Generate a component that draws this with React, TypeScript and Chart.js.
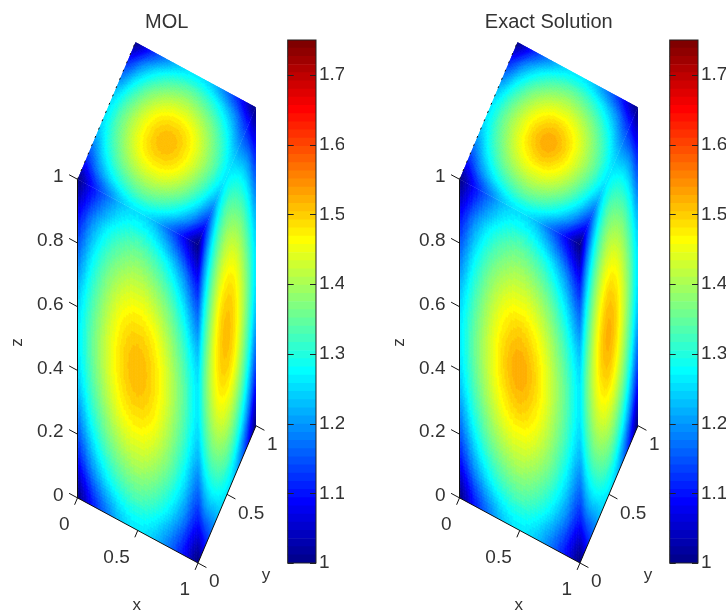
import React, { useEffect, useRef } from "react";
import { Chart, registerables } from "chart.js";

Chart.register(...registerables);

const zTicks = [0, 0.2, 0.4, 0.6, 0.8, 1];
const xTicks = [0, 0.5, 1];
const yTicks = [0, 0.5, 1];
const barTicks = [1, 1.1, 1.2, 1.3, 1.4, 1.5, 1.6, 1.7];
const barMin = 1;
const barMax = 1.75;
const axisCoords = [0, 0.125, 0.25, 0.375, 0.5, 0.625, 0.75, 0.875, 1];

// rows: z = 1 down to 0, columns: x = 0..1
const molFront = [
  [1.00, 1.09, 1.17, 1.23, 1.25, 1.23, 1.17, 1.09, 1.00],
  [1.10, 1.20, 1.28, 1.33, 1.35, 1.33, 1.28, 1.20, 1.10],
  [1.18, 1.28, 1.36, 1.41, 1.43, 1.41, 1.36, 1.28, 1.18],
  [1.24, 1.33, 1.41, 1.47, 1.49, 1.47, 1.41, 1.33, 1.24],
  [1.26, 1.35, 1.43, 1.49, 1.515, 1.49, 1.43, 1.35, 1.26],
  [1.24, 1.33, 1.41, 1.47, 1.49, 1.47, 1.41, 1.33, 1.24],
  [1.18, 1.28, 1.36, 1.41, 1.43, 1.41, 1.36, 1.28, 1.18],
  [1.10, 1.20, 1.28, 1.33, 1.35, 1.33, 1.28, 1.20, 1.10],
  [1.00, 1.10, 1.18, 1.24, 1.26, 1.24, 1.18, 1.10, 1.00],
];
// rows: z = 1 down to 0, columns: y = 0..1
const molRight = [
  [1.00, 1.10, 1.18, 1.24, 1.26, 1.24, 1.18, 1.10, 1.00],
  [1.10, 1.20, 1.28, 1.33, 1.35, 1.33, 1.28, 1.20, 1.10],
  [1.18, 1.28, 1.36, 1.41, 1.43, 1.41, 1.36, 1.28, 1.18],
  [1.24, 1.33, 1.41, 1.47, 1.49, 1.47, 1.41, 1.33, 1.24],
  [1.26, 1.35, 1.43, 1.49, 1.51, 1.49, 1.43, 1.35, 1.26],
  [1.24, 1.33, 1.41, 1.47, 1.49, 1.47, 1.41, 1.33, 1.24],
  [1.18, 1.28, 1.36, 1.41, 1.43, 1.41, 1.36, 1.28, 1.18],
  [1.10, 1.20, 1.28, 1.33, 1.35, 1.33, 1.28, 1.20, 1.10],
  [1.00, 1.10, 1.18, 1.24, 1.26, 1.24, 1.18, 1.10, 1.00],
];
// rows: y = 1 down to 0, columns: x = 0..1
const molTop = [
  [1.00, 1.10, 1.18, 1.24, 1.26, 1.24, 1.18, 1.10, 1.00],
  [1.10, 1.20, 1.28, 1.33, 1.35, 1.33, 1.28, 1.20, 1.10],
  [1.18, 1.28, 1.36, 1.41, 1.43, 1.41, 1.36, 1.28, 1.18],
  [1.24, 1.33, 1.41, 1.47, 1.49, 1.47, 1.41, 1.33, 1.24],
  [1.26, 1.35, 1.43, 1.49, 1.515, 1.49, 1.43, 1.35, 1.26],
  [1.24, 1.33, 1.41, 1.47, 1.49, 1.47, 1.41, 1.33, 1.24],
  [1.18, 1.28, 1.36, 1.41, 1.43, 1.41, 1.36, 1.28, 1.18],
  [1.10, 1.20, 1.28, 1.33, 1.35, 1.33, 1.28, 1.20, 1.10],
  [1.00, 1.10, 1.18, 1.24, 1.26, 1.24, 1.18, 1.10, 1.00],
];
const exactFront = [
  [1.00, 1.09, 1.17, 1.23, 1.25, 1.23, 1.17, 1.09, 1.00],
  [1.10, 1.20, 1.28, 1.33, 1.35, 1.33, 1.28, 1.20, 1.10],
  [1.18, 1.28, 1.36, 1.41, 1.43, 1.41, 1.36, 1.28, 1.18],
  [1.24, 1.33, 1.41, 1.47, 1.495, 1.47, 1.41, 1.33, 1.24],
  [1.26, 1.35, 1.43, 1.495, 1.525, 1.495, 1.43, 1.35, 1.26],
  [1.24, 1.33, 1.41, 1.47, 1.495, 1.47, 1.41, 1.33, 1.24],
  [1.18, 1.28, 1.36, 1.41, 1.43, 1.41, 1.36, 1.28, 1.18],
  [1.10, 1.20, 1.28, 1.33, 1.35, 1.33, 1.28, 1.20, 1.10],
  [1.00, 1.10, 1.18, 1.24, 1.26, 1.24, 1.18, 1.10, 1.00],
];
const exactRight = [
  [1.00, 1.10, 1.18, 1.24, 1.26, 1.24, 1.18, 1.10, 1.00],
  [1.10, 1.20, 1.28, 1.33, 1.35, 1.33, 1.28, 1.20, 1.10],
  [1.18, 1.28, 1.36, 1.41, 1.43, 1.41, 1.36, 1.28, 1.18],
  [1.24, 1.33, 1.41, 1.47, 1.495, 1.47, 1.41, 1.33, 1.24],
  [1.26, 1.35, 1.43, 1.495, 1.52, 1.495, 1.43, 1.35, 1.26],
  [1.24, 1.33, 1.41, 1.47, 1.495, 1.47, 1.41, 1.33, 1.24],
  [1.18, 1.28, 1.36, 1.41, 1.43, 1.41, 1.36, 1.28, 1.18],
  [1.10, 1.20, 1.28, 1.33, 1.35, 1.33, 1.28, 1.20, 1.10],
  [1.00, 1.10, 1.18, 1.24, 1.26, 1.24, 1.18, 1.10, 1.00],
];
const exactTop = [
  [1.00, 1.10, 1.18, 1.24, 1.26, 1.24, 1.18, 1.10, 1.00],
  [1.10, 1.20, 1.28, 1.33, 1.35, 1.33, 1.28, 1.20, 1.10],
  [1.18, 1.28, 1.36, 1.41, 1.43, 1.41, 1.36, 1.28, 1.18],
  [1.24, 1.33, 1.41, 1.47, 1.495, 1.47, 1.41, 1.33, 1.24],
  [1.26, 1.35, 1.43, 1.495, 1.525, 1.495, 1.43, 1.35, 1.26],
  [1.24, 1.33, 1.41, 1.47, 1.495, 1.47, 1.41, 1.33, 1.24],
  [1.18, 1.28, 1.36, 1.41, 1.43, 1.41, 1.36, 1.28, 1.18],
  [1.10, 1.20, 1.28, 1.33, 1.35, 1.33, 1.28, 1.20, 1.10],
  [1.00, 1.10, 1.18, 1.24, 1.26, 1.24, 1.18, 1.10, 1.00],
];

const TEXT = "#333333";
const FONT = "Liberation Sans";
const TICK_SIZE = 19;

// oblique MATLAB-like view: normalised horizontal and vertical screen coordinates
const project = (x: number, y: number, z: number) => ({
  x: (120.5 * x + 58 * y) / 178.5,
  y: (65 - 65 * x + 137 * y + 318 * z) / 520,
});

const JET_LEVELS = 64;
const clamp01 = (a: number) => Math.max(0, Math.min(1, a));
const jetLevel = (i: number) => {
  const t = (i + 1) / JET_LEVELS;
  const c = (o: number) => Math.round(255 * clamp01(1.5 - Math.abs(4 * t - o)));
  return `rgb(${c(3)},${c(2)},${c(1)})`;
};
const jetValue = (v: number) => {
  const i = Math.floor(((v - barMin) / (barMax - barMin)) * JET_LEVELS);
  return jetLevel(Math.max(0, Math.min(JET_LEVELS - 1, i)));
};

const catmull = (a: number, b: number, c: number, d: number, t: number) =>
  0.5 * (2 * b + (c - a) * t + (2 * a - 5 * b + 4 * c - d) * t * t + (3 * b - a - 3 * c + d) * t * t * t);

const sampleGrid = (g: number[][], r: number, c: number) => {
  const n = g.length, m = g[0].length;
  const r0 = Math.min(n - 2, Math.floor(r)), c0 = Math.min(m - 2, Math.floor(c));
  const tr = r - r0, tc = c - c0;
  const rowVal = (ri: number) => {
    const row = g[Math.max(0, Math.min(n - 1, ri))];
    const at = (k: number) => row[Math.max(0, Math.min(m - 1, k))];
    return catmull(at(c0 - 1), at(c0), at(c0 + 1), at(c0 + 2), tc);
  };
  return catmull(rowVal(r0 - 1), rowVal(r0), rowVal(r0 + 1), rowVal(r0 + 2), tr);
};

const facePoints = (g: number[][], pos: (col: number, row: number) => number[]) =>
  g.flatMap((row, ri) =>
    row.map((value, ci) => {
      const [x, y, z] = pos(axisCoords[ci], 1 - axisCoords[ri]);
      return { ...project(x, y, z), value };
    })
  );

const facePlugin = {
  id: "faces",
  beforeDatasetsDraw(chart: any) {
    const { ctx, scales } = chart;
    for (const ds of chart.data.datasets) {
      if (!ds.grid) continue;
      const g: number[][] = ds.grid;
      const n = g.length, m = g[0].length;
      const px = (r: number, c: number) => {
        const r0 = Math.min(n - 2, Math.floor(r)), c0 = Math.min(m - 2, Math.floor(c));
        const tr = r - r0, tc = c - c0;
        const pt = (a: number, b: number) => ds.data[a * m + b];
        const p = [pt(r0, c0), pt(r0, c0 + 1), pt(r0 + 1, c0), pt(r0 + 1, c0 + 1)].map((q: any) => [
          scales.x.getPixelForValue(q.x),
          scales.y.getPixelForValue(q.y),
        ]);
        const mix = (i: number) =>
          (1 - tr) * ((1 - tc) * p[0][i] + tc * p[1][i]) + tr * ((1 - tc) * p[2][i] + tc * p[3][i]);
        return [mix(0), mix(1)];
      };
      ctx.save();
      const corners = [px(0, 0), px(0, m - 1), px(n - 1, m - 1), px(n - 1, 0)];
      ctx.beginPath();
      corners.forEach((q, i) => (i ? ctx.lineTo(q[0], q[1]) : ctx.moveTo(q[0], q[1])));
      ctx.closePath();
      ctx.clip();
      const sub = 12;
      ctx.lineWidth = 0.8;
      for (let a = 0; a < (n - 1) * sub; a++) {
        for (let b = 0; b < (m - 1) * sub; b++) {
          const r = a / sub, c = b / sub, d = 1 / sub;
          const col = jetValue(sampleGrid(g, r + d / 2, c + d / 2));
          const q = [px(r, c), px(r, c + d), px(r + d, c + d), px(r + d, c)];
          ctx.fillStyle = col;
          ctx.strokeStyle = col;
          ctx.beginPath();
          q.forEach((w, i) => (i ? ctx.lineTo(w[0], w[1]) : ctx.moveTo(w[0], w[1])));
          ctx.closePath();
          ctx.fill();
          ctx.stroke();
        }
      }
      ctx.restore();
    }
  },
  afterDatasetsDraw(chart: any) {
    const { ctx, scales } = chart;
    const at = (x: number, y: number, z: number) => {
      const p = project(x, y, z);
      return [scales.x.getPixelForValue(p.x), scales.y.getPixelForValue(p.y)];
    };
    const put = (s: string, x: number, y: number, align: CanvasTextAlign) => {
      ctx.textAlign = align;
      ctx.fillText(s, x, y);
    };
    ctx.save();
    ctx.fillStyle = TEXT;
    ctx.textBaseline = "middle";
    ctx.font = `${TICK_SIZE}px "${FONT}"`;
    zTicks.forEach((t) => {
      const [a, b] = at(0, 0, t);
      put(String(t), a - 14, b - 2, "right");
    });
    xTicks.forEach((t) => {
      const [a, b] = at(t, 0, 0);
      put(String(t), a - 8, b + 27, "right");
    });
    yTicks.forEach((t) => {
      const [a, b] = at(1, t, 0);
      put(String(t), a + 11, b + 19, "left");
    });
    ctx.font = `17px "${FONT}"`;
    const xp = at(0.5, 0, 0);
    put("x", xp[0] - 1, xp[1] + 75, "center");
    const yp = at(1, 0.5, 0);
    put("y", yp[0] + 39, yp[1] + 81, "center");
    const zp = at(0, 0, 0.5);
    ctx.translate(zp[0] - 60, zp[1] + 4);
    ctx.rotate(-Math.PI / 2);
    put("z", 0, 0, "center");
    ctx.restore();
  },
};

const segment = (a: number[], b: number[]) => [project(a[0], a[1], a[2]), project(b[0], b[1], b[2])];
const lineSet = (data: any[], extra: any = {}) => ({
  data,
  showLine: true,
  pointRadius: 0,
  borderColor: "#111111",
  borderWidth: 1,
  clip: false,
  ...extra,
});

const panelDatasets = (front: number[][], right: number[][], top: number[][]) => [
  { label: "y=0", grid: front, data: facePoints(front, (a, b) => [a, 0, b]), pointRadius: 0, showLine: false },
  { label: "x=1", grid: right, data: facePoints(right, (a, b) => [1, a, b]), pointRadius: 0, showLine: false },
  { label: "z=1", grid: top, data: facePoints(top, (a, b) => [a, b, 1]), pointRadius: 0, showLine: false },
  lineSet(segment([0, 0, 0], [0, 0, 1])),
  lineSet(segment([0, 0, 0], [1, 0, 0])),
  lineSet(segment([1, 0, 0], [1, 1, 0])),
  lineSet(segment([0, 0, 1], [0, 1, 1]), { borderDash: [2, 7] }),
  ...zTicks.map((t) => lineSet(segment([0, 0, t], [-0.07, 0, t]))),
  ...xTicks.map((t) => lineSet(segment([t, 0, 0], [t, -0.05, 0]))),
  ...yTicks.map((t) => lineSet(segment([1, t, 0], [1.07, t, 0]))),
];

const barPlugin = {
  id: "barFrame",
  afterDatasetsDraw(chart: any) {
    const { ctx, chartArea: c, scales } = chart;
    ctx.save();
    ctx.strokeStyle = "#222222";
    ctx.lineWidth = 1;
    ctx.strokeRect(c.left, c.top, c.right - c.left, c.bottom - c.top);
    barTicks.forEach((t) => {
      const y = Math.round(scales.y.getPixelForValue(t)) + 0.5;
      ctx.beginPath();
      ctx.moveTo(c.left, y);
      ctx.lineTo(c.left + 6, y);
      ctx.moveTo(c.right, y);
      ctx.lineTo(c.right - 6, y);
      ctx.stroke();
    });
    ctx.restore();
  },
};

const soften = "blur(0.5px)";

function Panel({ title, left, front, right, top }: any) {
  const main = useRef<HTMLCanvasElement>(null);
  const bar = useRef<HTMLCanvasElement>(null);
  useEffect(() => {
    const a = new Chart(main.current!, {
      type: "scatter",
      data: { datasets: panelDatasets(front, right, top) as any },
      options: {
        animation: false,
        responsive: false,
        events: [],
        layout: { padding: { left: 77.5, right: 24, top: 0, bottom: 50 } },
        plugins: {
          legend: { display: false },
          tooltip: { enabled: false },
          title: {
            display: true,
            text: title,
            color: TEXT,
            font: { family: FONT, size: 20, weight: "normal" },
            padding: { top: 10, bottom: 8 },
          },
        },
        scales: {
          x: { type: "linear", min: 0, max: 1, display: false },
          y: { type: "linear", min: 0, max: 1, display: false },
        },
      },
      plugins: [facePlugin],
    } as any);
    const step = (barMax - barMin) / JET_LEVELS;
    const levels = Array.from({ length: JET_LEVELS }, (_, i) => i);
    const b = new Chart(bar.current!, {
      type: "bar",
      data: {
        labels: ["colour"],
        datasets: levels.map((i) => ({
          data: [[barMin + i * step, barMin + (i + 1) * step]],
          backgroundColor: jetLevel(i),
          borderWidth: 0,
          barPercentage: 1,
          categoryPercentage: 1,
        })) as any,
      },
      options: {
        animation: false,
        responsive: false,
        events: [],
        layout: { padding: { left: 7.7, right: 0, top: 40, bottom: 50 } },
        plugins: { legend: { display: false }, tooltip: { enabled: false } },
        scales: {
          x: { stacked: true, display: false },
          y: {
            position: "right",
            min: barMin,
            max: barMax,
            afterFit(s: any) {
              s.width = 28;
            },
            afterBuildTicks(s: any) {
              s.ticks = barTicks.map((value) => ({ value }));
            },
            border: { display: false },
            grid: { display: false, drawTicks: false },
            ticks: {
              color: TEXT,
              padding: 3,
              font: { family: FONT, size: TICK_SIZE },
              callback: (v: any) => String(v),
            },
          },
        },
      },
      plugins: [barPlugin],
    } as any);
    return () => {
      a.destroy();
      b.destroy();
    };
  }, []);
  return (
    <>
      <canvas ref={main} width={280} height={613} style={{ position: "absolute", left, top: 0, filter: soften }} />
      <canvas ref={bar} width={64} height={613} style={{ position: "absolute", left: left + 280, top: 0, filter: soften }} />
    </>
  );
}

export default function App() {
  return (
    <div style={{ position: "absolute", left: 0, top: 0, width: 726, height: 613, overflow: "hidden", background: "#fff" }}>
      <Panel title="MOL" left={0} front={molFront} right={molRight} top={molTop} />
      <Panel title="Exact Solution" left={382} front={exactFront} right={exactRight} top={exactTop} />
    </div>
  );
}
